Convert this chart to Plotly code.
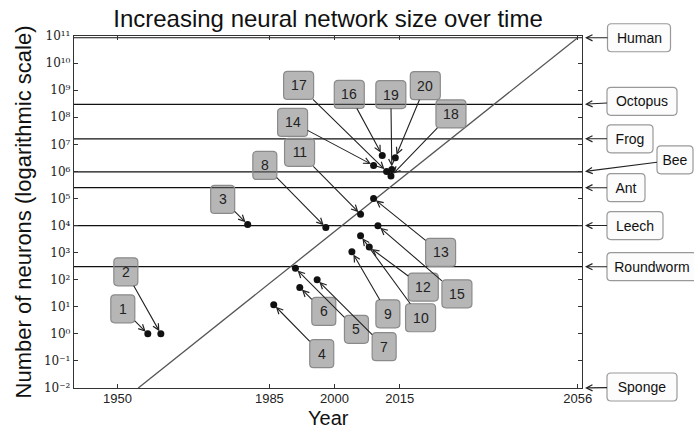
import numpy as np
import plotly.graph_objects as go

# ---- data -------------------------------------------------------------
net_labels = [str(i) for i in range(1, 21)]
net_years = [1957, 1960, 1980, 1986, 1991, 1992, 1996, 1998, 2004, 2006,
             2006, 2008, 2009, 2009, 2010, 2011, 2012, 2013, 2013.2, 2014]
net_neurons = [1, 1, 1.1e4, 12, 263, 52, 100, 8.5e3, 1.07e3, 4.2e3,
               2.6e4, 1.6e3, 1.0e5, 1.66e6, 9.8e3, 3.9e6, 1.0e6, 6.8e5, 1.17e6, 3.2e6]

organisms = ["Human", "Octopus", "Frog", "Bee", "Ant", "Leech", "Roundworm", "Sponge"]
organism_neurons = [8.6e10, 3e8, 1.6e7, 9.6e5, 2.5e5, 1e4, 302, 1e-2]  # sponge: none, drawn on the floor

trend_years = [1954.8, 2056]
trend_neurons = [1e-2, 8.6e10]

year_ticks = [1950, 1985, 2000, 2015, 2056]
decade_exponents = list(range(-2, 12))

# ---- layout helpers ----------------------------------------------------
X_RANGE = [1940, 2057]
Y_RANGE = [-2, 11]  # log10 units

# label box centre offsets from the point they annotate (px, y down)
net_offsets = [(-25, -25), (-35, -62), (-25, -25), (48, 49), (61, 61), (24, 24),
               (67, 67), (-61, -62), (36, 62), (60, 82), (-61, -62), (54, 40),
               (67, 54), (-81, -43), (79, 68), (-33, -61), (-88, -86), (60, -62),
               (-1, -75), (30, -72)]

org_offsets = [(57, 0), (60, -3), (48, 0), (93, -12), (44, 0), (53, 0), (70, 0), (60, -1)]
org_widths = [63, 70, 46, 36, 38, 56, 90, 70]

BOX_H = 28
FONT = "Liberation Sans, Arial, sans-serif"
SUP = str.maketrans("-0123456789", "⁻⁰¹²³⁴⁵⁶⁷⁸⁹")


def power_label(k):
    return "10" + str(k).translate(SUP)


def rounded_box(cx, cy, w, h, r=4):
    """Rounded rectangle path in pixel units (y up) centred at (cx, cy)."""
    x0, x1 = cx - w / 2, cx + w / 2
    y0, y1 = cy - h / 2, cy + h / 2
    return (f"M{x0 + r},{y0} L{x1 - r},{y0} Q{x1},{y0} {x1},{y0 + r} "
            f"L{x1},{y1 - r} Q{x1},{y1} {x1 - r},{y1} L{x0 + r},{y1} "
            f"Q{x0},{y1} {x0},{y1 - r} L{x0},{y0 + r} Q{x0},{y0} {x0 + r},{y0} Z")


fig = go.Figure()

# trend line
fig.add_trace(go.Scatter(x=trend_years, y=trend_neurons, mode="lines",
                         line=dict(color="#555555", width=1.3),
                         hoverinfo="skip", showlegend=False))

# network points
fig.add_trace(go.Scatter(x=net_years, y=net_neurons, mode="markers",
                         marker=dict(color="#111111", size=7),
                         showlegend=False))

shapes = []
annotations = []

# organism reference lines
for name, n in zip(organisms[:-1], organism_neurons[:-1]):
    shapes.append(dict(type="line", xref="paper", x0=0, x1=1, yref="y", y0=n, y1=n,
                       line=dict(color="#111111", width=1.2), layer="below"))

# numbered network labels
for lab, yr, n, (dx, dy) in zip(net_labels, net_years, net_neurons, net_offsets):
    w = 24 if len(lab) == 1 else 30
    shapes.append(dict(type="path", xref="x", yref="y", xsizemode="pixel", ysizemode="pixel",
                       xanchor=yr, yanchor=n, path=rounded_box(dx, -dy, w, BOX_H),
                       fillcolor="rgba(110,110,110,0.5)", line=dict(color="#8a8a8a", width=1.2),
                       layer="above"))
    annotations.append(dict(x=yr, y=np.log10(n), xref="x", yref="y", text=lab,
                            ax=dx, ay=dy, axref="pixel", ayref="pixel",
                            width=w, height=BOX_H, borderpad=0, borderwidth=0,
                            showarrow=True, arrowhead=5, arrowsize=1.1, arrowwidth=1.1,
                            arrowcolor="#222222", standoff=3,
                            font=dict(family=FONT, size=14, color="#222222")))

# organism labels on the right
for name, n, (dx, dy), w in zip(organisms, organism_neurons, org_offsets, org_widths):
    frac = (np.log10(n) - Y_RANGE[0]) / (Y_RANGE[1] - Y_RANGE[0])
    shapes.append(dict(type="path", xref="paper", yref="paper", xsizemode="pixel", ysizemode="pixel",
                       xanchor=1, yanchor=frac, path=rounded_box(dx, -dy, w, BOX_H),
                       fillcolor="#fcfcfc", line=dict(color="#999999", width=1.2),
                       layer="above"))
    annotations.append(dict(x=1, y=np.log10(n), xref="paper", yref="y", text=name,
                            ax=dx, ay=dy, axref="pixel", ayref="pixel",
                            width=w, height=BOX_H, borderpad=0, borderwidth=0,
                            showarrow=True, arrowhead=5, arrowsize=1.1, arrowwidth=1.1,
                            arrowcolor="#222222", standoff=3,
                            font=dict(family=FONT, size=14, color="#111111")))

# x-axis title, set a little below the tick labels
annotations.append(dict(text="Year", xref="paper", yref="paper", x=0.5, y=0,
                        xanchor="center", yanchor="middle", yshift=-30, showarrow=False,
                        borderpad=0, font=dict(family=FONT, size=20, color="#111111")))

fig.update_layout(
    width=694, height=430,
    margin=dict(l=74, r=112, t=36, b=42, autoexpand=False),
    paper_bgcolor="white", plot_bgcolor="white",
    title=dict(text="Increasing neural network size over time",
               font=dict(family=FONT, size=24, color="#111111"),
               x=0.5, xref="paper", xanchor="center",
               y=1 - 19 / 430, yref="container", yanchor="middle"),
    shapes=shapes,
    annotations=annotations,
    xaxis=dict(range=X_RANGE, tickmode="array", tickvals=year_ticks, automargin=False,
               ticks="inside", ticklen=4, tickcolor="#333333", mirror="ticks",
               ticklabelstandoff=-2,
               showline=True, linecolor="#333333", linewidth=1.4, showgrid=False, zeroline=False,
               tickfont=dict(family=FONT, size=13, color="#222222")),
    yaxis=dict(type="log", range=Y_RANGE, tickmode="array", automargin=False,
               tickvals=[10.0 ** k for k in decade_exponents],
               ticktext=[power_label(k) for k in decade_exponents],
               ticks="inside", ticklen=4, tickcolor="#333333", mirror="ticks",
               showline=True, linecolor="#333333", linewidth=1.4, showgrid=False, zeroline=False,
               tickfont=dict(family="DejaVu Serif, serif", size=12, color="#222222"),
               title=dict(text="Number of neurons (logarithmic scale)",
                          font=dict(family=FONT, size=22, color="#111111"), standoff=6)),
)

fig.write_html("out.html")
